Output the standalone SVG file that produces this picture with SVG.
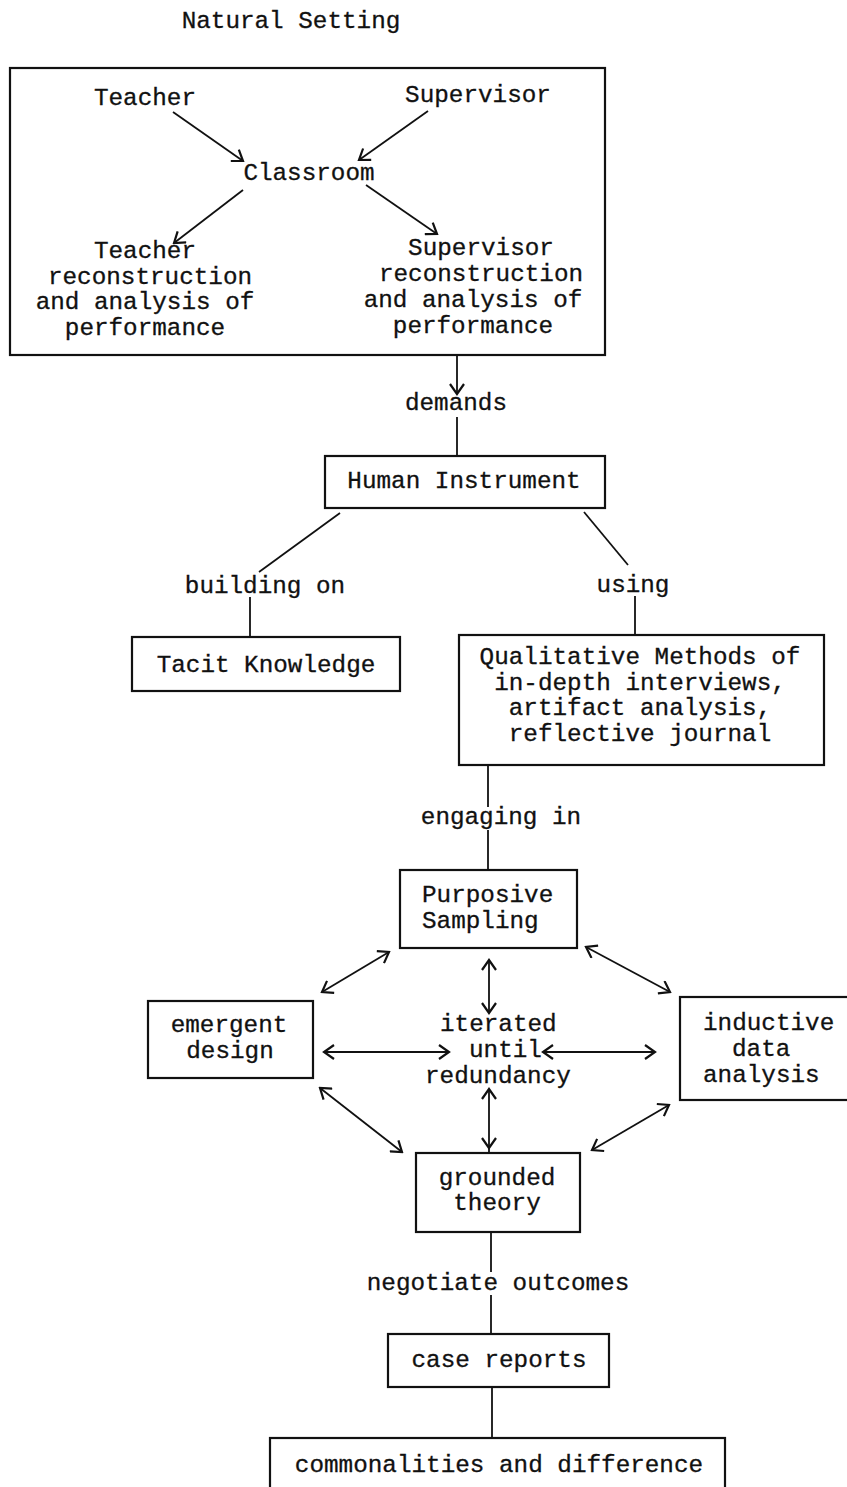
<svg xmlns="http://www.w3.org/2000/svg" width="847" height="1487" viewBox="0 0 847 1487">
<defs>
<style>
text{font-family:"Liberation Mono","Courier New",monospace;font-size:24.3px;fill:#111;stroke:#111;stroke-width:0.3;}
.c{text-anchor:middle;}
.s{text-anchor:start;}
rect{fill:none;stroke:#111;stroke-width:2.2;}
line{stroke:#111;stroke-width:1.8;}
.a{marker-end:url(#ah);}
.b{marker-start:url(#ah);marker-end:url(#ah);}
</style>
<marker id="ah" markerUnits="userSpaceOnUse" markerWidth="14" markerHeight="16" viewBox="0 0 14 16" refX="12" refY="8" orient="auto-start-reverse">
<path d="M2,1 L12,8 L2,15" fill="none" stroke="#111" stroke-width="2.2"/>
</marker>
</defs>
<rect width="847" height="1487" style="fill:#fff;stroke:none"/>

<g id="title"><text class="c" x="291" y="28">Natural Setting</text></g>

<g id="natural-setting">
<rect x="10" y="68" width="595" height="287"/>
</g>
<g id="teacher"><text class="c" x="145" y="105">Teacher</text></g>
<g id="supervisor"><text class="c" x="478" y="102">Supervisor</text></g>
<g id="classroom"><text class="c" x="309" y="180">Classroom</text></g>
<g id="teacher-reconstruction">
<text class="c" x="145" y="258">Teacher</text>
<text class="c" x="150" y="284">reconstruction</text>
<text class="c" x="145" y="309">and analysis of</text>
<text class="c" x="145" y="335">performance</text>
</g>
<g id="supervisor-reconstruction">
<text class="c" x="481" y="255">Supervisor</text>
<text class="c" x="481" y="281">reconstruction</text>
<text class="c" x="473" y="307">and analysis of</text>
<text class="c" x="473" y="333">performance</text>
</g>

<g id="human-instrument">
<rect x="325" y="456" width="280" height="52"/>
<text class="c" x="464" y="488">Human Instrument</text>
</g>
<g id="tacit-knowledge">
<rect x="132" y="637" width="268" height="54"/>
<text class="c" x="266" y="672">Tacit Knowledge</text>
</g>
<g id="qualitative-methods">
<rect x="459" y="635" width="365" height="130"/>
<text class="c" x="640" y="664">Qualitative Methods of</text>
<text class="c" x="640" y="690">in-depth interviews,</text>
<text class="c" x="640" y="715">artifact analysis,</text>
<text class="c" x="640" y="741">reflective journal</text>
</g>
<g id="purposive-sampling">
<rect x="400" y="870" width="177" height="78"/>
<text class="s" x="422" y="902">Purposive</text>
<text class="s" x="422" y="928">Sampling</text>
</g>
<g id="emergent-design">
<rect x="148" y="1001" width="165" height="77"/>
<text class="c" x="229" y="1032">emergent</text>
<text class="c" x="230" y="1058">design</text>
</g>
<g id="iterated">
<text class="s" x="440" y="1031">iterated</text>
<text class="s" x="469" y="1057">until</text>
<text class="s" x="425" y="1083">redundancy</text>
</g>
<g id="inductive-data-analysis">
<rect x="680" y="997" width="185" height="103"/>
<text class="s" x="703" y="1030">inductive</text>
<text class="s" x="732" y="1056">data</text>
<text class="s" x="703" y="1082">analysis</text>
</g>
<g id="grounded-theory">
<rect x="416" y="1153" width="164" height="79"/>
<text class="c" x="497" y="1185">grounded</text>
<text class="c" x="497" y="1210">theory</text>
</g>
<g id="case-reports">
<rect x="388" y="1334" width="221" height="53"/>
<text class="c" x="499" y="1367">case reports</text>
</g>
<g id="commonalities">
<rect x="270" y="1438" width="455" height="80"/>
<text class="c" x="499" y="1472">commonalities and difference</text>
</g>

<g id="connectors">
<line class="a" x1="173" y1="112" x2="243" y2="161"/>
<line class="a" x1="428" y1="111" x2="359" y2="160"/>
<line class="a" x1="243" y1="190" x2="174" y2="243"/>
<line class="a" x1="366" y1="185" x2="437" y2="234"/>
<line class="a" x1="457" y1="355" x2="457" y2="394"/>
<line x1="457" y1="417" x2="457" y2="456"/>
<text class="c" x="456" y="410">demands</text>
<line x1="340" y1="513" x2="259" y2="572"/>
<text class="c" x="265" y="593">building on</text>
<line x1="250" y1="597" x2="250" y2="637"/>
<line x1="584" y1="512" x2="628" y2="565"/>
<text class="c" x="633" y="592">using</text>
<line x1="635" y1="596" x2="635" y2="635"/>
<line x1="488" y1="765" x2="488" y2="807"/>
<text class="c" x="501" y="824">engaging in</text>
<line x1="488" y1="830" x2="488" y2="870"/>
<line class="b" x1="389" y1="952" x2="322" y2="992"/>
<line class="b" x1="489" y1="960" x2="489" y2="1013"/>
<line class="b" x1="586" y1="947" x2="670" y2="992"/>
<line class="b" x1="324" y1="1052" x2="449" y2="1052"/>
<line class="b" x1="543" y1="1052" x2="655" y2="1052"/>
<line class="b" x1="320" y1="1088" x2="402" y2="1152"/>
<line class="b" x1="489" y1="1089" x2="489" y2="1148"/>
<line x1="489" y1="1148" x2="489" y2="1153"/>
<line class="b" x1="669" y1="1105" x2="592" y2="1150"/>
<line x1="491" y1="1232" x2="491" y2="1272"/>
<text class="c" x="498" y="1290">negotiate outcomes</text>
<line x1="491" y1="1295" x2="491" y2="1334"/>
<line x1="492" y1="1387" x2="492" y2="1438"/>
</g>
</svg>
